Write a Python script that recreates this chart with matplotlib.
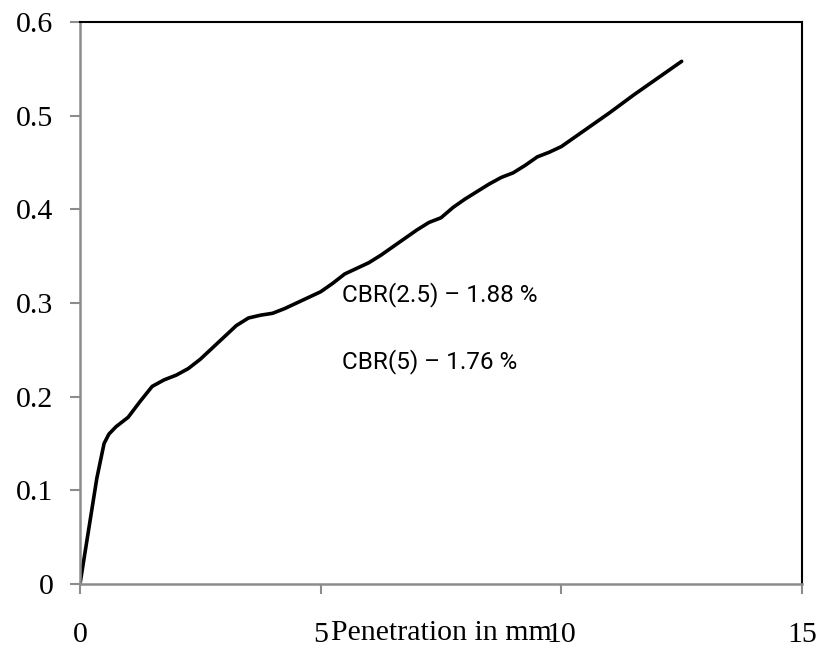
import matplotlib
matplotlib.use("Agg")
import matplotlib.pyplot as plt

penetration = [0, 0.35, 0.5, 0.6, 0.75, 1.0, 1.25, 1.5, 1.75, 2.0, 2.25, 2.5, 2.75, 3.0, 3.25,
               3.5, 3.75, 4.0, 4.25, 4.5, 4.75, 5.0, 5.25, 5.5, 5.75, 6.0, 6.25, 6.5, 6.75,
               7.0, 7.25, 7.5, 7.75, 8.0, 8.25, 8.5, 8.75, 9.0, 9.25, 9.5, 9.75, 10.0, 10.5,
               11.0, 11.5, 12.0, 12.5]
load = [0, 0.113, 0.150, 0.160, 0.168, 0.178, 0.195, 0.211, 0.218, 0.223, 0.230, 0.240, 0.252,
        0.264, 0.276, 0.284, 0.287, 0.289, 0.294, 0.300, 0.306, 0.312, 0.321, 0.331, 0.337,
        0.343, 0.351, 0.360, 0.369, 0.378, 0.386, 0.391, 0.402, 0.411, 0.419, 0.427, 0.434,
        0.439, 0.447, 0.456, 0.461, 0.467, 0.485, 0.503, 0.522, 0.540, 0.558]
x_ticks = [0, 5, 10, 15]
y_ticks = [0, 0.1, 0.2, 0.3, 0.4, 0.5, 0.6]
annotations = ["CBR(2.5) – 1.88 %", "CBR(5) – 1.76 %"]

fig = plt.figure(figsize=(8.22, 6.55), dpi=100)
ax = fig.add_axes([80/822, 71/655, 722/822, 562/655])
ax.plot(penetration, load, color="black", lw=2.6, solid_joinstyle="round", solid_capstyle="round")
ax.set_xlim(0, 15)
ax.set_ylim(0, 0.6)
ax.set_xticks(x_ticks)
ax.set_yticks(y_ticks)
ax.set_xticklabels([str(v) for v in x_ticks])
ax.set_yticklabels(["0" if v == 0 else f"{v:.1f}" for v in y_ticks])

for side in ["left", "bottom"]:
    ax.spines[side].set_color("#8c8c8c")
    ax.spines[side].set_linewidth(1.8)
for side in ["top", "right"]:
    ax.spines[side].set_color("black")
    ax.spines[side].set_linewidth(1.5)

ax.tick_params(axis="both", direction="out", length=7, width=1.5, color="#8c8c8c",
               labelsize=21.5)
ax.tick_params(axis="x", pad=20)
ax.tick_params(axis="y", pad=12)
for lab in ax.get_xticklabels() + ax.get_yticklabels():
    lab.set_fontfamily("Liberation Serif")

ax.set_xlabel("Penetration in mm", fontfamily="Liberation Serif", fontsize=21.5, labelpad=-20)

ax.text(5.45, 0.3085, annotations[0], fontfamily="Roboto", fontsize=17.5, va="center", ha="left")
ax.text(5.45, 0.237, annotations[1], fontfamily="Roboto", fontsize=17.5, va="center", ha="left")

fig.savefig("out.png", dpi=100)
